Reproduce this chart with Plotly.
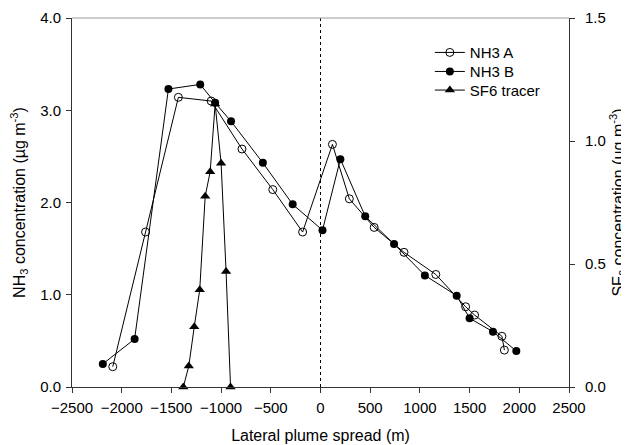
import plotly.graph_objects as go

# NH3 A (open circles)
a_x = [-2090, -1760, -1430, -1100, -790, -480, -180, 120, 290, 540, 840, 1160, 1460, 1550, 1825, 1850]
a_y = [0.22, 1.68, 3.14, 3.10, 2.58, 2.14, 1.68, 2.63, 2.04, 1.73, 1.46, 1.22, 0.87, 0.78, 0.55, 0.40]

# NH3 B (filled circles)
b_x = [-2190, -1870, -1530, -1210, -1060, -900, -580, -280, 20, 200, 450, 740, 1050, 1370, 1500, 1735, 1970]
b_y = [0.25, 0.52, 3.23, 3.28, 3.08, 2.88, 2.43, 1.98, 1.70, 2.47, 1.85, 1.55, 1.21, 0.99, 0.745, 0.60, 0.39]

# SF6 tracer (triangles, right axis)
s_x = [-1380, -1325, -1270, -1215, -1160, -1110, -1060, -1000, -950, -905]
s_y = [0.0, 0.085, 0.245, 0.395, 0.775, 0.875, 1.15, 0.91, 0.47, 0.0]

x_ticks = [-2500, -2000, -1500, -1000, -500, 0, 500, 1000, 1500, 2000, 2500]

FONT = "Liberation Sans, Arial, sans-serif"

fig = go.Figure()
fig.add_trace(go.Scatter(
    x=a_x, y=a_y, name="NH3 A", mode="lines+markers", legend="legend",
    line=dict(color="black", width=1),
    marker=dict(symbol="circle-open", size=8, color="black", line=dict(width=1)),
    cliponaxis=False,
))
fig.add_trace(go.Scatter(
    x=b_x, y=b_y, name="NH3 B", mode="lines+markers", legend="legend2",
    line=dict(color="black", width=1),
    marker=dict(symbol="circle", size=8, color="black"),
    cliponaxis=False,
))
fig.add_trace(go.Scatter(
    x=s_x, y=s_y, name="SF6 tracer", mode="lines+markers", yaxis="y2", legend="legend3",
    line=dict(color="black", width=1),
    marker=dict(symbol="triangle-up", size=9, color="black"),
    cliponaxis=False,
))

fig.add_shape(type="line", xref="x", yref="y", x0=0, x1=0, y0=0, y1=4,
              line=dict(color="black", width=1, dash="dot"))
fig.add_shape(type="line", xref="paper", yref="paper", x0=0, x1=1, y0=1, y1=1,
              line=dict(color="#999999", width=1))

axis_common = dict(showgrid=False, zeroline=False, showline=True, linecolor="#333333",
                   linewidth=1, ticks="outside", ticklen=5, tickcolor="#333333",
                   tickfont=dict(family=FONT, size=15, color="black"))

leg_common = dict(xanchor="left", yanchor="middle", bgcolor="rgba(0,0,0,0)",
                  font=dict(family=FONT, size=15), itemwidth=30)

fig.update_layout(
    width=629, height=445,
    margin=dict(l=64, r=68, t=10, b=66, autoexpand=False),
    paper_bgcolor="white", plot_bgcolor="white",
    font=dict(family=FONT, size=15, color="black"),
    xaxis=dict(range=[-2500, 2500], tickvals=x_ticks, automargin=False, ticklabelstandoff=2,
               title=dict(text="Lateral plume spread (m)", font=dict(size=16), standoff=14),
               **axis_common),
    yaxis=dict(range=[0, 4], dtick=1, tickformat=".1f", automargin=False, ticklabelstandoff=2,
               title=dict(text="NH<sub>3</sub> concentration (µg m<sup>-3</sup>)", font=dict(size=16), standoff=10),
               **axis_common),
    yaxis2=dict(range=[0, 1.5], dtick=0.5, tickformat=".1f", overlaying="y", side="right",
                automargin=False, ticklabelstandoff=7,
                title=dict(text="SF<sub>6</sub> concentration (µg m<sup>-3</sup>)", font=dict(size=16), standoff=7),
                **axis_common),
    legend=dict(x=0.72, y=0.906, **leg_common),
    legend2=dict(x=0.72, y=0.8545, **leg_common),
    legend3=dict(x=0.72, y=0.804, **leg_common),
    showlegend=True,
)

fig.write_html("out.html")
